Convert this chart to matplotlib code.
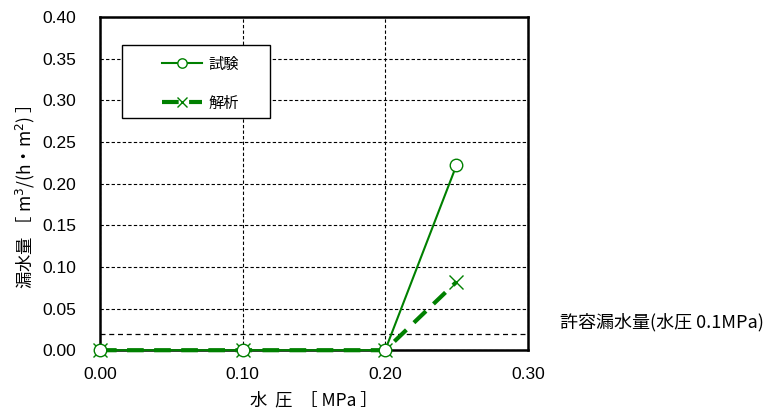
import matplotlib
matplotlib.use('Agg')
import matplotlib.pyplot as plt
from matplotlib.patches import Rectangle

plt.rcParams['font.family'] = ['Noto Sans CJK JP', 'DejaVu Sans']

# 水圧 [MPa]
pressure = [0.00, 0.10, 0.20, 0.25]
test_leak = [0.0, 0.0, 0.0, 0.222]      # 試験
analysis_leak = [0.0, 0.0, 0.0, 0.082]  # 解析
allow_leak = 0.02                       # 許容漏水量
xticks = [0.00, 0.10, 0.20, 0.30]
yticks = [0.00, 0.05, 0.10, 0.15, 0.20, 0.25, 0.30, 0.35, 0.40]

green = '#008000'

fig = plt.figure(figsize=(7.75, 4.12), dpi=100)
ax = fig.add_axes([0.129, 0.150, 0.552, 0.809])

ax.plot(pressure, test_leak, color=green, lw=1.5, marker='o', ms=9,
        mfc='white', mec=green, mew=1, label='試験', zorder=4, clip_on=False)
ax.plot(pressure, analysis_leak, color=green, lw=3, ls=(0, (4, 2.5)),
        marker='x', ms=10, mec=green, mew=1, label='解析', zorder=3,
        clip_on=False)
ax.axhline(allow_leak, color='black', lw=0.9, ls=(0, (4, 3)), zorder=2)

ax.set_xlim(0, 0.30)
ax.set_ylim(0, 0.40)
ax.set_xticks(xticks)
ax.set_yticks(yticks)
ax.set_xticklabels([f'{v:.2f}' for v in xticks], family='Liberation Sans')
ax.set_yticklabels([f'{v:.2f}' for v in yticks], family='Liberation Sans')
ax.tick_params(labelsize=12.5, length=0)
ax.tick_params(axis='y', pad=17)
ax.tick_params(axis='x', pad=12)
ax.grid(True, color='black', lw=0.8, ls=(0, (3, 2)))
for s in ax.spines.values():
    s.set_linewidth(1.8)

ax.set_xlabel('水  圧  ［ MPa ］', fontsize=12.5, labelpad=7)
ax.set_ylabel('漏水量 ［ m$^3$/(h・m$^2$) ］', fontsize=12.5)
ax.yaxis.set_label_coords(-0.147, 0.46)

ax.text(1.075, 0.084, '許容漏水量(水圧 0.1MPa)', fontsize=13,
        ha='left', va='center', transform=ax.transAxes, clip_on=False)

# legend box
ax.add_patch(Rectangle((0.051, 0.697), 0.346, 0.219, transform=ax.transAxes,
                       facecolor='white', edgecolor='black', lw=1.0, zorder=5))
leg = ax.legend(loc='upper left', bbox_to_anchor=(0.128, 0.907), fontsize=11,
                frameon=False, borderpad=0, labelspacing=1.45,
                handlelength=2.6, handletextpad=0.4, markerscale=0.75)
leg.set_zorder(6)

fig.savefig('out.png', dpi=100)
